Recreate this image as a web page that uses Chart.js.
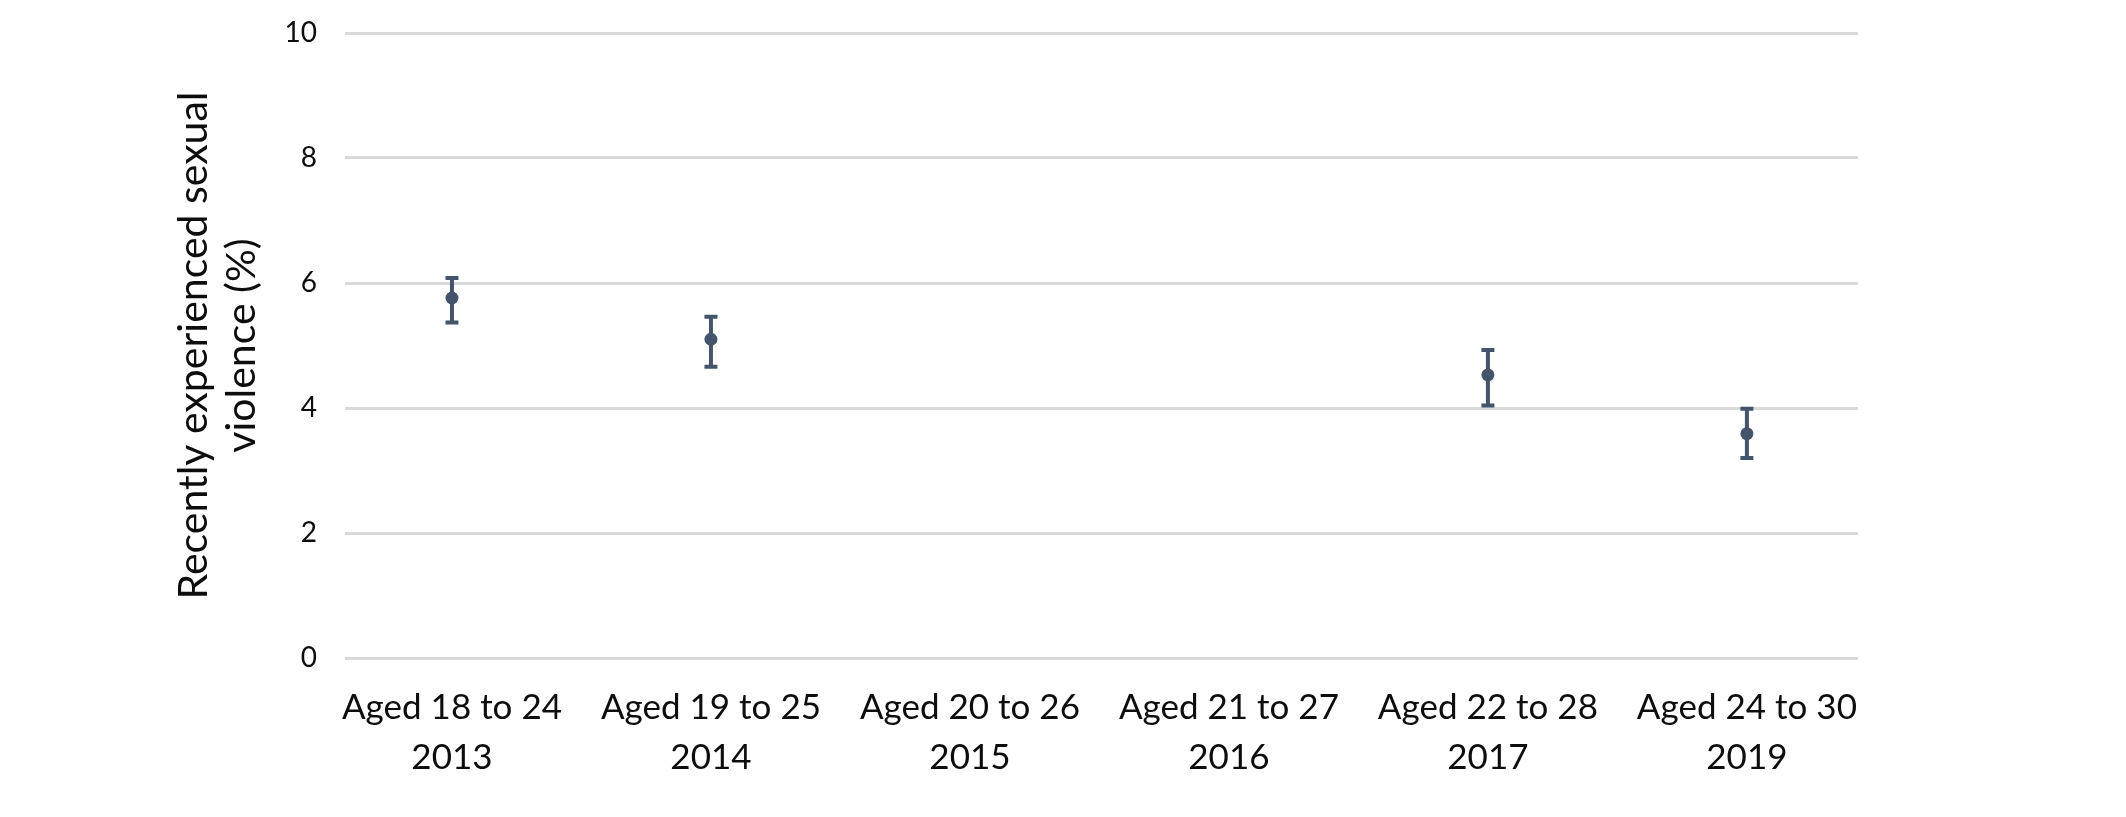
<!DOCTYPE html>
<html>
<head>
<meta charset="utf-8">
<script src="https://cdn.jsdelivr.net/npm/chart.js@4"></script>
<style>
  html, body { margin: 0; padding: 0; background: #fff; }
  #wrap { position: relative; width: 2126px; height: 817px; }
</style>
</head>
<body>
<div id="wrap"><canvas id="violenceChart"></canvas></div>
<script>
const ageGroups = ["Aged 18 to 24", "Aged 19 to 25", "Aged 20 to 26", "Aged 21 to 27", "Aged 22 to 28", "Aged 24 to 30"];
const years = ["2013", "2014", "2015", "2016", "2017", "2019"];
const values = [5.76, 5.10, null, null, 4.53, 3.59];
const lowerCI = [5.37, 4.66, null, null, 4.04, 3.20];
const upperCI = [6.08, 5.46, null, null, 4.93, 3.99];
const yTicks = [0, 2, 4, 6, 8, 10];

const markColor = "#44546a";
const textColor = "#0d0d0d";
const fontFamily = "Lato, 'Noto Sans', sans-serif";

const points = values.map((v, i) => ({ x: i, y: v }));

// error bars drawn through the chart's own scales
const errorBars = {
  id: "errorBars",
  beforeDatasetsDraw(chart) {
    const { ctx, scales } = chart;
    const xs = scales.x;
    const ys = scales.y;
    ctx.save();
    ctx.strokeStyle = markColor;
    ctx.lineWidth = 4;
    values.forEach((v, i) => {
      if (v === null) return;
      const x = xs.getPixelForValue(i);
      const top = ys.getPixelForValue(upperCI[i]);
      const bottom = ys.getPixelForValue(lowerCI[i]);
      ctx.beginPath();
      ctx.moveTo(x, top);
      ctx.lineTo(x, bottom);
      ctx.moveTo(x - 6.5, top);
      ctx.lineTo(x + 6.5, top);
      ctx.moveTo(x - 6.5, bottom);
      ctx.lineTo(x + 6.5, bottom);
      ctx.stroke();
    });
    ctx.restore();
  },
};

const ctx = document.getElementById("violenceChart");
new Chart(ctx, {
  type: "scatter",
  data: {
    datasets: [
      {
        label: "Recently experienced sexual violence",
        data: points,
        backgroundColor: markColor,
        borderColor: markColor,
        pointRadius: 6.5,
        pointHoverRadius: 6.5,
        borderWidth: 0,
      },
    ],
  },
  options: {
    responsive: true,
    maintainAspectRatio: false,
    animation: false,
    layout: {
      padding: { left: 170, right: 268, top: 33, bottom: 29 },
    },
    plugins: {
      legend: { display: false },
      tooltip: { enabled: false },
    },
    scales: {
      x: {
        type: "linear",
        min: -0.413,
        max: 5.429,
        afterBuildTicks: (scale) => {
          scale.ticks = ageGroups.map((g, i) => ({ value: i }));
        },
        afterFit: (scale) => {
          scale.height = 130;
          scale.paddingLeft = 0;
          scale.paddingRight = 0;
        },
        grid: { display: false },
        border: { display: false },
        ticks: {
          autoSkip: false,
          maxRotation: 0,
          padding: 17,
          color: textColor,
          font: { family: fontFamily, size: 35, lineHeight: 1.43 },
          callback: (value) => [ageGroups[value], years[value]],
        },
      },
      y: {
        min: 0,
        max: 10,
        afterBuildTicks: (scale) => {
          scale.ticks = yTicks.map((t) => ({ value: t }));
        },
        afterFit: (scale) => {
          scale.width = 175;
          scale.paddingTop = 0;
          scale.paddingBottom = 0;
        },
        grid: { color: "#d9d9d9", lineWidth: 3, drawTicks: false },
        border: { display: false },
        ticks: {
          padding: 28,
          color: textColor,
          font: { family: fontFamily, size: 28 },
        },
        title: {
          display: true,
          text: ["Recently experienced sexual", "violence (%)"],
          color: textColor,
          font: { family: fontFamily, size: 41, lineHeight: 1.17 },
          padding: { top: 0, bottom: 0 },
        },
      },
    },
  },
  plugins: [errorBars],
});
</script>
</body>
</html>
